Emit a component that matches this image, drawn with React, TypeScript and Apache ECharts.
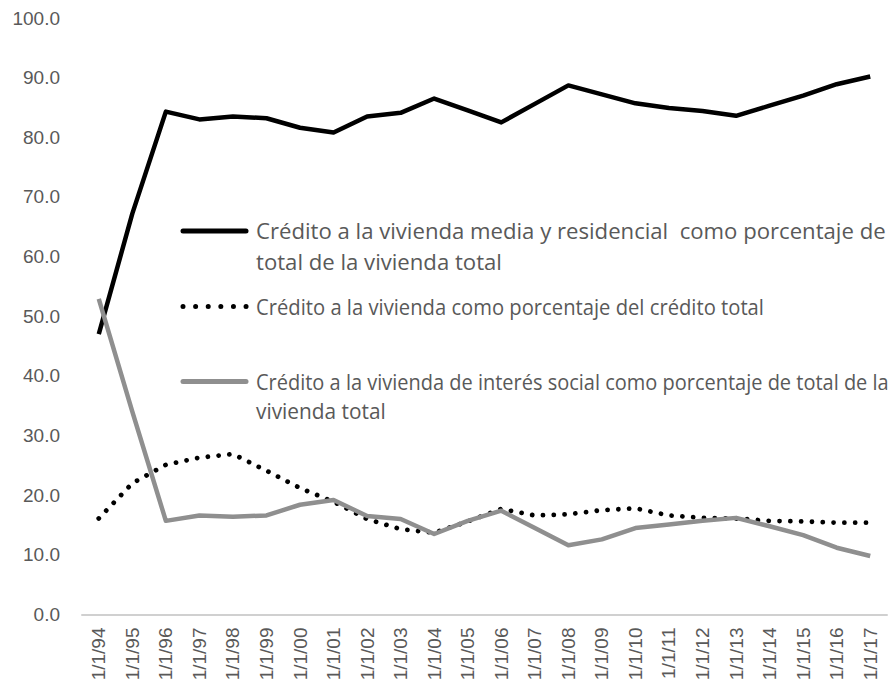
import { useEffect, useRef } from "react";
import * as echarts from "echarts";

const categories = [
  "1/1/94", "1/1/95", "1/1/96", "1/1/97", "1/1/98", "1/1/99", "1/1/00", "1/1/01",
  "1/1/02", "1/1/03", "1/1/04", "1/1/05", "1/1/06", "1/1/07", "1/1/08", "1/1/09",
  "1/1/10", "1/1/11", "1/1/12", "1/1/13", "1/1/14", "1/1/15", "1/1/16", "1/1/17",
];

const mediaResidencial = [
  47.0, 67.2, 84.3, 83.0, 83.5, 83.2, 81.6, 80.8, 83.5, 84.1, 86.5, 84.5,
  82.5, 85.6, 88.7, 87.2, 85.7, 84.9, 84.4, 83.6, 85.3, 87.0, 88.9, 90.2,
];

const creditoTotal = [
  16.1, 22.0, 25.1, 26.3, 26.9, 24.1, 21.2, 18.9, 16.0, 14.3, 13.7, 15.6,
  17.7, 16.6, 16.8, 17.5, 17.8, 16.6, 16.2, 16.1, 15.7, 15.6, 15.4, 15.4,
];

const interesSocial = [
  52.9, 34.0, 15.7, 16.6, 16.4, 16.6, 18.4, 19.2, 16.5, 16.0, 13.5, 15.7,
  17.4, 14.5, 11.6, 12.6, 14.5, 15.1, 15.7, 16.2, 14.8, 13.3, 11.2, 9.8,
];

const legendMedia = [
  "Crédito a la vivienda media y residencial  como porcentaje de",
  "total de la vivienda total",
];
const legendTotal = ["Crédito a la vivienda como porcentaje del crédito total"];
const legendSocial = [
  "Crédito a la vivienda de interés social como porcentaje de total de la",
  "vivienda total",
];

const LEGEND_FONT = '"Open Sans", "Noto Sans", sans-serif';
const AXIS_FONT = '"Liberation Sans", Arial, sans-serif';
const TEXT_GRAY = "#595959";

export default function App() {
  const ref = useRef<HTMLDivElement>(null);

  useEffect(() => {
    if (!ref.current) return;
    const chart = echarts.init(ref.current, undefined, { renderer: "svg" });

    const legendText = (x: number, y: number, text: string, sx: number) => ({
      type: "text",
      x,
      y,
      scaleX: sx,
      style: {
        text,
        fill: TEXT_GRAY,
        fontSize: 21.5,
        fontFamily: LEGEND_FONT,
        align: "left",
        verticalAlign: "middle",
      },
    });

    chart.setOption({
      animation: false,
      backgroundColor: "#ffffff",
      grid: {
        left: 82,
        right: 6,
        top: 18,
        bottom: 66.5,
        containLabel: false,
        outerBoundsMode: "none",
      },
      xAxis: {
        type: "category",
        data: categories,
        boundaryGap: true,
        axisLine: { show: true, lineStyle: { color: "#d0d0d0", width: 2 } },
        axisTick: { show: false },
        axisLabel: {
          interval: 0,
          rotate: 90,
          margin: 13,
          color: TEXT_GRAY,
          fontSize: 19,
          fontFamily: AXIS_FONT,
        },
        splitLine: { show: false },
      },
      yAxis: {
        type: "value",
        min: 0,
        max: 100,
        interval: 10,
        axisLine: { show: false },
        axisTick: { show: false },
        splitLine: { show: false },
        axisLabel: {
          margin: 22,
          color: TEXT_GRAY,
          fontSize: 19,
          fontFamily: AXIS_FONT,
          formatter: (v: number) => v.toFixed(1),
        },
      },
      series: [
        {
          name: legendMedia.join(" "),
          type: "line",
          data: mediaResidencial,
          showSymbol: false,
          symbol: "none",
          lineStyle: { color: "#000000", width: 4.5, join: "round" },
          z: 2,
        },
        {
          name: legendTotal.join(" "),
          type: "line",
          data: creditoTotal,
          showSymbol: false,
          symbol: "none",
          lineStyle: { color: "#000000", width: 4.8, type: [0.01, 10.8], cap: "round" },
          z: 3,
        },
        {
          name: legendSocial.join(" "),
          type: "line",
          data: interesSocial,
          showSymbol: false,
          symbol: "none",
          lineStyle: { color: "#8f8f8f", width: 4.5, join: "round" },
          z: 4,
        },
      ],
      graphic: [
        {
          type: "line",
          shape: { x1: 183, y1: 231, x2: 246, y2: 231 },
          style: { stroke: "#000000", lineWidth: 5, lineCap: "round" },
        },
        legendText(256, 231, legendMedia[0], 1.03),
        legendText(256, 262, legendMedia[1], 1.03),
        {
          type: "line",
          shape: { x1: 183, y1: 306.5, x2: 247, y2: 306.5 },
          style: { stroke: "#000000", lineWidth: 5, lineCap: "round", lineDash: [0.01, 12.6] },
        },
        legendText(256, 306.5, legendTotal[0], 0.94),
        {
          type: "line",
          shape: { x1: 183, y1: 381.5, x2: 246, y2: 381.5 },
          style: { stroke: "#8f8f8f", lineWidth: 5, lineCap: "round" },
        },
        legendText(256, 381.5, legendSocial[0], 0.93),
        legendText(256, 410, legendSocial[1], 0.97),
      ],
    });

    return () => chart.dispose();
  }, []);

  return (
    <div
      ref={ref}
      style={{ position: "absolute", left: 0, top: 0, width: 893, height: 681 }}
    />
  );
}
